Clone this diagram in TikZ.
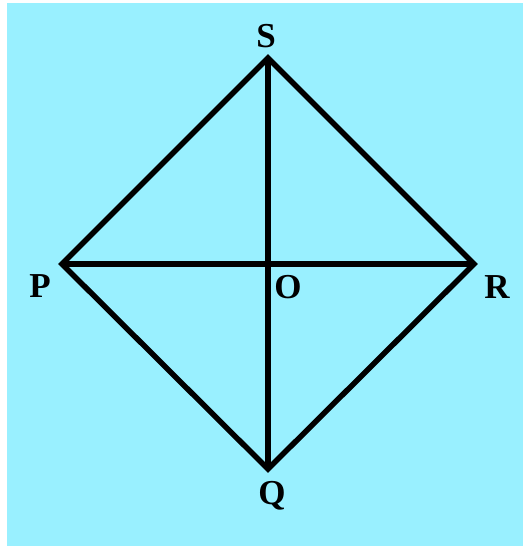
\documentclass[tikz,border=0pt]{standalone}
\usepackage{fontspec}
\setmainfont{Liberation Serif}
\usetikzlibrary{positioning}
\definecolor{sqcyan}{RGB}{153,240,255}
\tikzset{
  sqEdge/.style={
    line width=5.5pt,
    draw=black,
    line join=miter
  },
  sqLabel/.style={
    font=\fontsize{35}{38}\selectfont\bfseries,
    inner sep=0pt
  }
}

\begin{document}
\begin{tikzpicture}[x=1pt,y=1pt]
  \useasboundingbox (0,0) rectangle (523,546);
  \fill[white] (0,0) rectangle (523,546);
  \fill[sqcyan] (7,0) rectangle (523,543);

  \coordinate (S) at (268,488);
  \coordinate (P) at (62,282);
  \coordinate (R) at (474,282);
  \coordinate (Q) at (268,77);
  \coordinate (O) at (268,282);

  \draw[sqEdge] (P) -- (S) -- (R) -- (Q) -- cycle;
  \draw[sqEdge] (P) -- (R);
  \draw[sqEdge] (S) -- (Q);

  \node[sqLabel] (labS) at (266,510) {S};
  \node[sqLabel] (labP) at (40,260) {P};
  \node[sqLabel] (labO) at (288,259) {O};
  \node[sqLabel] (labR) at (497,259) {R};
  \node[sqLabel] (labQ) at (272,50) {Q};
\end{tikzpicture}
\end{document}
